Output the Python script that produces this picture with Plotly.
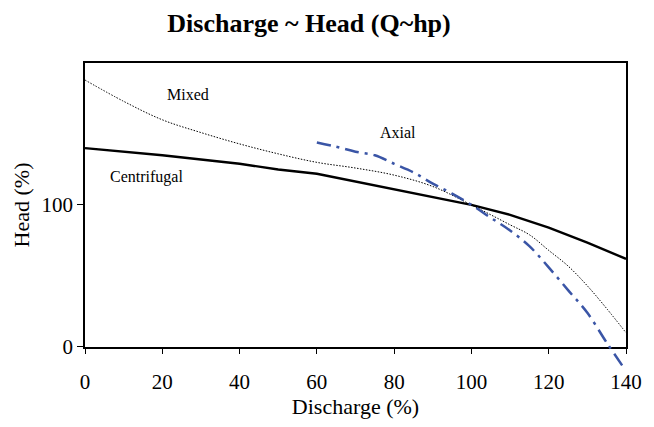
import plotly.graph_objects as go

# discharge (%) and head (%)
cent_q = [0, 20, 40, 50, 60, 70, 80, 90, 100, 110, 120, 130, 140]
cent_h = [140, 135, 129, 125, 122, 116.5, 111, 105.5, 100, 93, 84, 73.5, 62]

mixed_q = [0, 10, 20, 30, 40, 50, 60, 70, 80, 90, 100, 110, 115, 120, 125, 130, 135, 140]
mixed_h = [188, 173, 160, 151, 143, 136, 130, 126, 121, 113, 100, 86, 79, 68, 57, 43, 27, 10]

axial_q = [60, 65, 70, 75, 80, 85, 90, 95, 100, 105, 110, 115, 120, 125, 130, 135, 139]
axial_h = [144, 141, 137.5, 135, 129, 123, 115, 108, 100, 91, 82, 71, 56, 40, 24, 3, -13]

labels = ["Mixed", "Axial", "Centrifugal"]
label_q = [26.6, 81, 16]
label_h = [177.7, 150.7, 119.6]

font = "Liberation Serif, Times New Roman, serif"

# the axial curve runs below the x axis in the original, so it gets its own
# (hidden) axis pair that reaches 20px further down than the framed plot
H, T, B, EXTRA = 419, 55, 47, 20
plot_h = H - T - B
y0_frac = EXTRA / plot_h
y_low = -200 * EXTRA / (plot_h - EXTRA)

fig = go.Figure()
fig.add_trace(go.Scatter(x=mixed_q, y=mixed_h, mode="lines",
                         line=dict(color="black", width=1, dash="1.5px,1.5px", shape="spline")))
fig.add_trace(go.Scatter(x=cent_q, y=cent_h, mode="lines",
                         line=dict(color="black", width=2.4)))
fig.add_trace(go.Scatter(x=axial_q, y=axial_h, mode="lines", xaxis="x2", yaxis="y2",
                         line=dict(color="#3a55a6", width=2.5, dash="14px,6px,3px,6px",
                                   shape="spline")))

for txt, x, y in zip(labels, label_q, label_h):
    fig.add_annotation(x=x, y=y, text=txt, showarrow=False,
                       font=dict(family=font, size=16, color="black"))

# page body adds an 8px margin, so the figure is sized 8px smaller
fig.update_layout(
    width=646, height=H,
    title=dict(text="<b>Discharge ~ Head (Q~hp)</b>", xref="container", x=0.466,
               xanchor="center", yref="container", y=0.964, yanchor="middle",
               font=dict(family=font, size=26, color="black")),
    showlegend=False,
    paper_bgcolor="white", plot_bgcolor="rgba(0,0,0,0)",
    margin=dict(l=73, r=21, t=T, b=B),
    font=dict(family=font, size=21, color="black"),
    xaxis=dict(range=[0, 140], tickvals=[0, 20, 40, 60, 80, 100, 120, 140],
               showgrid=False, zeroline=False, showline=True, linecolor="black",
               linewidth=1.5, mirror=True, ticks="outside", ticklen=5, tickcolor="black",
               ticklabelstandoff=10, tickfont=dict(size=21),
               title=dict(text="Discharge (%)", standoff=6, font=dict(size=22))),
    yaxis=dict(range=[0, 200], tickvals=[0, 100], domain=[y0_frac, 1],
               showgrid=False, zeroline=False, showline=True, linecolor="black",
               linewidth=1.5, mirror=True, ticks="outside", ticklen=6, tickcolor="black",
               tickfont=dict(size=21),
               title=dict(text="Head (%)", standoff=6, font=dict(size=22))),
    xaxis2=dict(range=[0, 140], anchor="y2", visible=False),
    yaxis2=dict(range=[y_low, 200], domain=[0, 1], anchor="x2", visible=False),
)

fig.write_html("out.html")
